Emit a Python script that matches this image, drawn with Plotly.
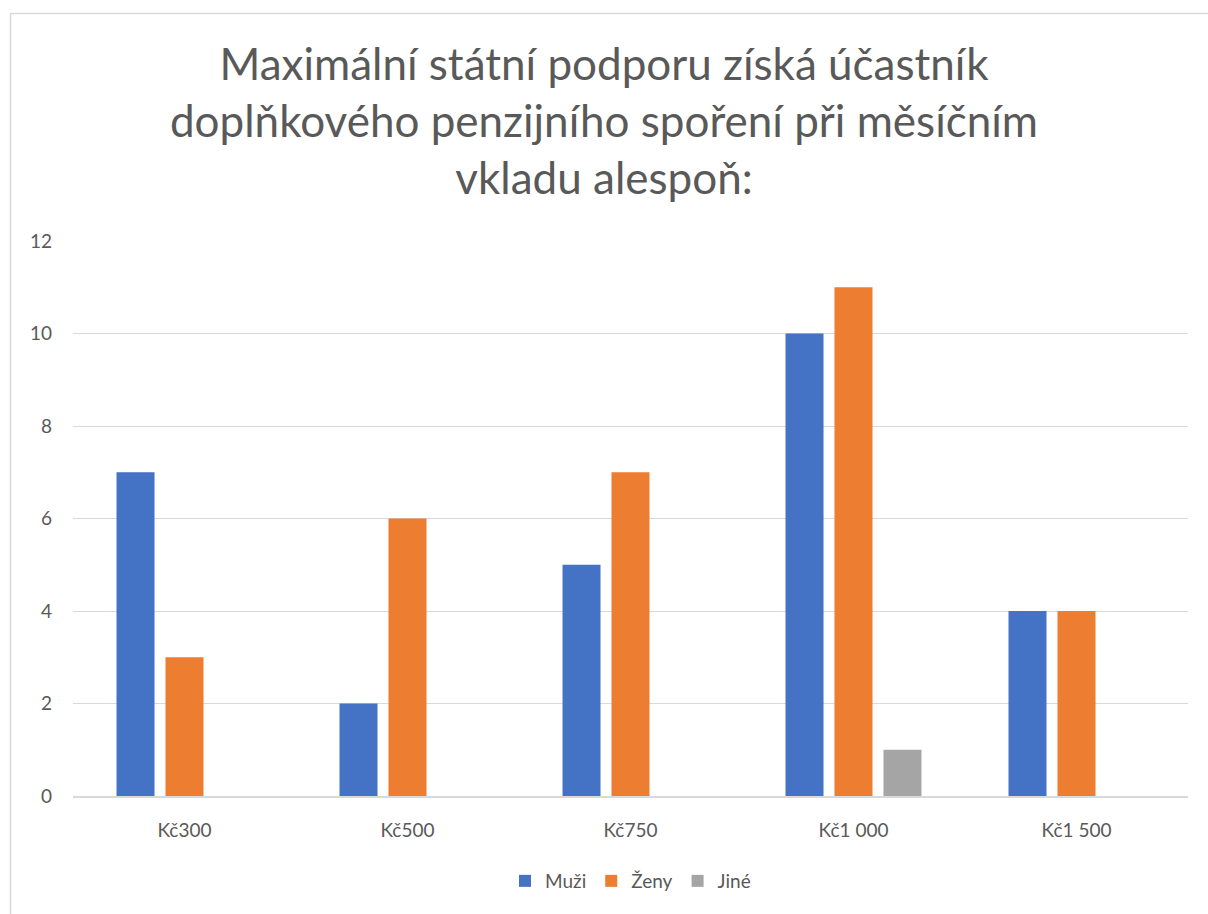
import plotly.graph_objects as go

categories = ["Kč300", "Kč500", "Kč750", "Kč1 000", "Kč1 500"]
muzi = [7, 2, 5, 10, 4]
zeny = [3, 6, 7, 11, 4]
jine = [0, 0, 0, 1, 0]
series_names = ["Muži", "Ženy", "Jiné"]
colors = ["#4472C4", "#ED7D31", "#A5A5A5"]
title_lines = ["Maximální státní podporu získá účastník",
               "doplňkového penzijního spoření při měsíčním",
               "vkladu alespoň:"]

FONT = "Lato, 'Open Sans', sans-serif"

fig = go.Figure()
for name, vals, c in zip(series_names, [muzi, zeny, jine], colors):
    fig.add_trace(go.Bar(x=categories, y=vals, name=name, marker=dict(color=c, line=dict(width=0))))

W, H = 1208, 914
L, T = 73, 241
R = W - 1188
B = H - 796
pw = W - L - R
ph = H - T - B

def px_x(x):
    return (x - L) / pw

def px_y(y):
    return (H - B - y) / ph

fig.update_layout(
    width=W, height=H,
    margin=dict(l=L, r=R, t=T, b=B),
    paper_bgcolor="white", plot_bgcolor="white",
    barmode="group", bargap=0.341, bargroupgap=0.224,
    font=dict(family=FONT, color="#595959", size=19),
    title=dict(text="<br>".join(title_lines), x=0.5, xanchor="center",
               y=1 - 80 / H, yanchor="middle",
               font=dict(family=FONT, size=44, color="#595959")),
    xaxis=dict(showgrid=False, showline=True, linecolor="#D9D9D9", linewidth=1.5,
               ticks="", tickfont=dict(size=19, color="#595959"), ticklabelstandoff=16),
    yaxis=dict(range=[0, 12], dtick=2, showgrid=True, gridcolor="#D9D9D9", gridwidth=1,
               zeroline=False, showline=False, ticks="",
               tickfont=dict(size=19, color="#595959"), ticklabelstandoff=20),
    legend=dict(orientation="h", x=0.5, xanchor="center", y=px_y(881), yanchor="middle",
                font=dict(size=19, color="#595959"), itemwidth=30, traceorder="normal"),
    shapes=[dict(type="rect", xref="paper", yref="paper",
                 x0=px_x(10.5), x1=px_x(1230), y0=px_y(13.5), y1=px_y(940),
                 line=dict(color="#D9D9D9", width=1.5), fillcolor="rgba(0,0,0,0)", layer="below")],
)

fig.write_html("out.html", config={"displayModeBar": False},
               post_script="document.body.style.margin='0';document.body.style.overflow='hidden';")
